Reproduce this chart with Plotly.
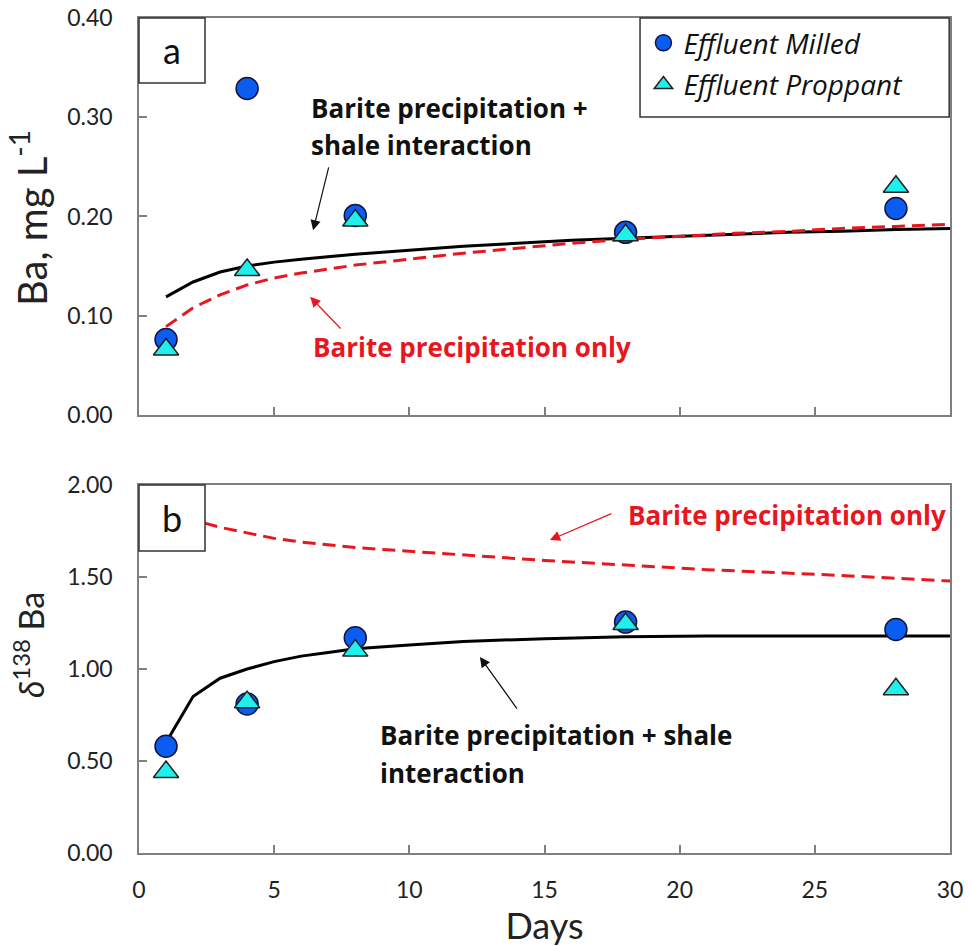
import plotly.graph_objects as go

# ---------------- data ----------------
days_obs = [1, 4, 8, 18, 28]
ba_milled = [0.076, 0.329, 0.201, 0.184, 0.208]
ba_proppant = [0.066, 0.146, 0.196, 0.181, 0.230]
d138_milled = [0.58, 0.81, 1.17, 1.255, 1.215]
d138_proppant = [0.44, 0.82, 1.10, 1.245, 0.89]

days_model = [1, 2, 3, 4, 5, 6, 8, 10, 12, 14, 16, 18, 20, 22, 24, 26, 28, 30]
ba_barite_shale = [0.119, 0.134, 0.144, 0.150, 0.154, 0.157, 0.162, 0.166, 0.170,
                   0.173, 0.176, 0.178, 0.180, 0.182, 0.184, 0.185, 0.187, 0.188]
ba_barite_only = [0.089, 0.108, 0.121, 0.131, 0.138, 0.143, 0.151, 0.157, 0.163,
                  0.168, 0.173, 0.177, 0.180, 0.183, 0.185, 0.188, 0.190, 0.192]

days_model_b = [1, 2, 3, 4, 5, 6, 7, 8, 10, 12, 15, 18, 21, 25, 30]
d138_barite_shale = [0.60, 0.85, 0.95, 1.00, 1.04, 1.07, 1.09, 1.11, 1.13, 1.15,
                     1.165, 1.175, 1.18, 1.18, 1.18]
d138_barite_only = [1.85, 1.81, 1.77, 1.74, 1.71, 1.69, 1.675, 1.66, 1.64, 1.62,
                    1.59, 1.565, 1.54, 1.515, 1.478]

x_ticks = [0, 5, 10, 15, 20, 25, 30]

# ---------------- styles ----------------
FONT = "Lato"
TXT = "Open Sans"
BLUE = "#0b5cf0"
CYAN = "#1ff0ee"
RED = "#e8161e"
AXIS = "#7f7f7f"

fig = go.Figure()

# panel a lines
fig.add_trace(go.Scatter(x=days_model, y=ba_barite_shale, mode="lines",
                         line=dict(color="black", width=3), showlegend=False,
                         xaxis="x", yaxis="y"))
fig.add_trace(go.Scatter(x=days_model, y=ba_barite_only, mode="lines",
                         line=dict(color=RED, width=3, dash="13px,7px"), showlegend=False,
                         xaxis="x", yaxis="y"))
# panel a markers
fig.add_trace(go.Scatter(x=days_obs, y=ba_milled, mode="markers",
                         name="<i>Effluent Milled</i>",
                         marker=dict(symbol="circle", size=22, color=BLUE,
                                     line=dict(color="#14143c", width=1.5)),
                         xaxis="x", yaxis="y", legend="legend"))
fig.add_trace(go.Scatter(x=days_obs, y=ba_proppant, mode="markers",
                         name="<i>Effluent Proppant</i>",
                         marker=dict(symbol="triangle-up", size=22, color=CYAN,
                                     line=dict(color="#222222", width=1.5)),
                         xaxis="x", yaxis="y", legend="legend2"))

# panel b lines
fig.add_trace(go.Scatter(x=days_model_b, y=d138_barite_shale, mode="lines",
                         line=dict(color="black", width=3), showlegend=False,
                         xaxis="x2", yaxis="y2"))
fig.add_trace(go.Scatter(x=days_model_b, y=d138_barite_only, mode="lines",
                         line=dict(color=RED, width=3, dash="13px,7px"), showlegend=False,
                         xaxis="x2", yaxis="y2"))
# panel b markers
fig.add_trace(go.Scatter(x=days_obs, y=d138_milled, mode="markers",
                         marker=dict(symbol="circle", size=22, color=BLUE,
                                     line=dict(color="#14143c", width=1.5)),
                         showlegend=False, xaxis="x2", yaxis="y2"))
fig.add_trace(go.Scatter(x=days_obs, y=d138_proppant, mode="markers",
                         marker=dict(symbol="triangle-up", size=22, color=CYAN,
                                     line=dict(color="#222222", width=1.5)),
                         showlegend=False, xaxis="x2", yaxis="y2"))

tickfont = dict(family=FONT, size=23, color="#222222")
common_axis = dict(showline=True, linecolor=AXIS, linewidth=1.5, mirror=True,
                   ticks="inside", ticklen=8, tickcolor=AXIS, tickwidth=1.5,
                   showgrid=False, zeroline=False, tickfont=tickfont, automargin=False)

fig.update_layout(
    width=971, height=947,
    margin=dict(l=139, r=21, t=18, b=94, autoexpand=False),
    plot_bgcolor="white", paper_bgcolor="white",
    font=dict(family=FONT, color="#111111"),
    xaxis=dict(domain=[0, 1], range=[0, 30], tickvals=x_ticks, showticklabels=False,
               anchor="y", **common_axis),
    yaxis=dict(domain=[0.5246, 1], range=[0, 0.4], dtick=0.1, tickformat=".2f",
               anchor="x", ticklabelstandoff=20, **common_axis),
    xaxis2=dict(domain=[0, 1], range=[0, 30], tickvals=x_ticks, anchor="y2",
                ticklabelstandoff=16,
                title=dict(text="Days", font=dict(family=FONT, size=36, color="#222222"),
                           standoff=6),
                **common_axis),
    yaxis2=dict(domain=[0, 0.4407], range=[0, 2.0], dtick=0.5, tickformat=".2f",
                anchor="x2", ticklabelstandoff=20, **common_axis),
    legend=dict(x=0.622, y=0.970, xanchor="left", yanchor="middle",
                bgcolor="rgba(0,0,0,0)", borderwidth=0, itemsizing="trace",
                font=dict(family=TXT, size=28, color="#111111")),
    legend2=dict(x=0.622, y=0.920, xanchor="left", yanchor="middle",
                 bgcolor="rgba(0,0,0,0)", borderwidth=0, itemsizing="trace",
                 font=dict(family=TXT, size=28, color="#111111")),
)

shapes = [
    # legend frame
    dict(type="rect", xref="paper", yref="paper", x0=0.6178, x1=0.999, y0=0.8814, y1=1.0,
         line=dict(color="#333333", width=1.5), fillcolor="rgba(0,0,0,0)", layer="above"),
    # panel label boxes
    dict(type="rect", xref="paper", yref="paper", x0=0, x1=0.0814, y0=0.9222, y1=1.0,
         line=dict(color="#333333", width=1.5), fillcolor="white", layer="above"),
    dict(type="rect", xref="paper", yref="paper", x0=0, x1=0.0814, y0=0.3617, y1=0.4407,
         line=dict(color="#333333", width=1.5), fillcolor="white", layer="above"),
]
fig.update_layout(shapes=shapes)

ann = []
# panel labels
ann.append(dict(text="a", xref="paper", yref="paper", x=0.0407, y=0.9611, showarrow=False,
                xanchor="center", yanchor="middle",
                font=dict(family=FONT, size=36, color="#111111")))
ann.append(dict(text="b", xref="paper", yref="paper", x=0.0407, y=0.4012, showarrow=False,
                xanchor="center", yanchor="middle",
                font=dict(family=FONT, size=36, color="#111111")))
# y-axis titles
ann.append(dict(text="Ba, mg L<sup>-1</sup>", xref="paper", yref="paper", x=-0.1357,
                y=(853 - 218) / 835, xanchor="center", yanchor="middle",
                textangle=-90, showarrow=False,
                font=dict(family=FONT, size=40, color="#222222")))
ann.append(dict(text="<i>δ</i><sup>138</sup> Ba", xref="paper", yref="paper", x=-0.1356,
                y=0.2491, xanchor="center", yanchor="middle", textangle=-90, showarrow=False,
                font=dict(family=FONT, size=34, color="#222222")))

bold = dict(family=TXT, size=26, color="#111111", weight="bold")
boldred = dict(family=TXT, size=26, color=RED, weight="bold")
# panel a texts
ann.append(dict(text="Barite precipitation +", xref="x", yref="y", x=6.30, y=(415 - 108) / 992.5,
                xanchor="left", yanchor="middle", showarrow=False, font=bold))
ann.append(dict(text="shale interaction", xref="x", yref="y", x=6.30, y=(415 - 145) / 992.5,
                xanchor="left", yanchor="middle", showarrow=False, font=bold))
ann.append(dict(text="Barite precipitation only", xref="x", yref="y", x=6.35, y=0.0685,
                xanchor="left", yanchor="middle", showarrow=False, font=boldred))
# panel b texts
ann.append(dict(text="Barite precipitation only", xref="x2", yref="y2", x=18.02, y=1.837,
                xanchor="left", yanchor="middle", showarrow=False, font=boldred))
ann.append(dict(text="Barite precipitation + shale", xref="x2", yref="y2", x=8.85,
                y=(853 - 735) / 184, xanchor="left", yanchor="middle", showarrow=False, font=bold))
ann.append(dict(text="interaction", xref="x2", yref="y2", x=8.85, y=(853 - 773) / 184,
                xanchor="left", yanchor="middle", showarrow=False, font=bold))

# arrows
def arrow(xr, yr, x_head, y_head, x_tail, y_tail, color):
    return dict(text="", xref=xr, yref=yr, x=x_head, y=y_head, axref=xr, ayref=yr,
                ax=x_tail, ay=y_tail, showarrow=True, arrowhead=2, arrowsize=1.7,
                arrowwidth=1.2, arrowcolor=color)

ann.append(arrow("x", "y", 6.44, 0.186, 7.03, 0.251, "#111111"))
ann.append(arrow("x", "y", 6.33, 0.119, 7.51, 0.0856, RED))
ann.append(arrow("x2", "y2", 15.20, 1.701, 17.53, 1.848, RED))
ann.append(arrow("x2", "y2", 12.61, 1.065, 14.02, 0.777, "#111111"))

fig.update_layout(annotations=ann)

fig.write_html("out.html")
